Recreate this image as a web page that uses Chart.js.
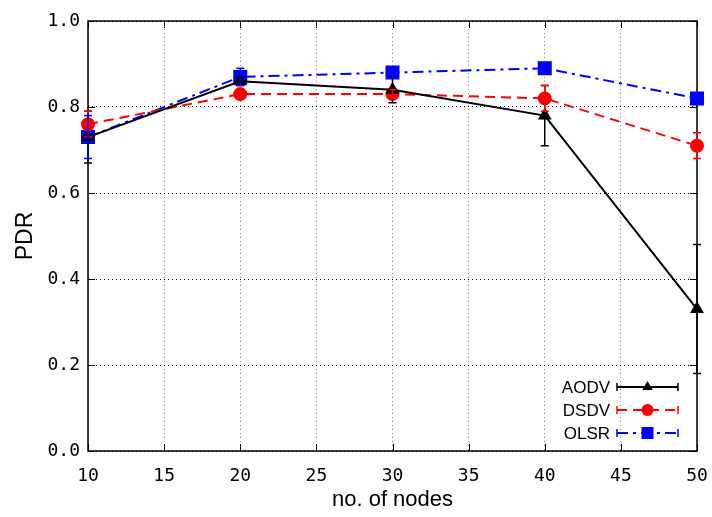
<!DOCTYPE html>
<html>
<head>
<meta charset="utf-8">
<script src="https://cdn.jsdelivr.net/npm/chart.js@4"></script>
<style>
  html, body { margin: 0; padding: 0; background: #fff; }
  #wrap { width: 712px; height: 517px; }
</style>
</head>
<body>
<div id="wrap"><canvas id="pdrChart" width="712" height="517"></canvas></div>
<script>
// Data
const nodes = [10, 20, 30, 40, 50]
const aodv = [0.73, 0.86, 0.84, 0.78, 0.33]
const aodvErr = [0.06, 0.01, 0.03, 0.07, 0.15]
const dsdv = [0.76, 0.83, 0.83, 0.82, 0.71]
const dsdvErr = [0.03, 0.01, 0.01, 0.03, 0.03]
const olsr = [0.73, 0.87, 0.88, 0.89, 0.82]
const olsrErr = [0.05, 0.02, 0.01, 0.01, 0.01]
const seriesNames = ['AODV', 'DSDV', 'OLSR']

const monoFont = "'DejaVu Sans Mono', monospace"
const sansFont = "'Liberation Sans', Arial, sans-serif"

function points(values) {
  return nodes.map((n, i) => ({ x: n, y: values[i] }))
}

// Error bars, frame, inward ticks and the key
const extras = {
  id: 'extras',
  beforeDatasetsDraw(chart) {
    const { ctx, chartArea: a, scales } = chart
    ctx.save()
    ctx.strokeStyle = '#000'
    ctx.lineWidth = 1.5
    ctx.strokeRect(a.left, a.top, a.right - a.left, a.bottom - a.top)
    ctx.lineWidth = 1
    scales.x.ticks.forEach(t => {
      const px = Math.round(scales.x.getPixelForValue(t.value)) + 0.5
      ctx.beginPath()
      ctx.moveTo(px, a.bottom); ctx.lineTo(px, a.bottom - 7)
      ctx.moveTo(px, a.top); ctx.lineTo(px, a.top + 7)
      ctx.stroke()
    })
    scales.y.ticks.forEach(t => {
      const py = Math.round(scales.y.getPixelForValue(t.value)) + 0.5
      ctx.beginPath()
      ctx.moveTo(a.left, py); ctx.lineTo(a.left + 7, py)
      ctx.moveTo(a.right, py); ctx.lineTo(a.right - 7, py)
      ctx.stroke()
    })
    ctx.restore()
  },
  afterDatasetsDraw(chart) {
    const { ctx, scales } = chart
    const errs = [aodvErr, dsdvErr, olsrErr]
    ctx.save()
    chart.data.datasets.forEach((ds, di) => {
      ctx.strokeStyle = ds.borderColor
      ctx.lineWidth = 1.5
      ds.data.forEach((p, i) => {
        const px = scales.x.getPixelForValue(p.x)
        const top = scales.y.getPixelForValue(p.y + errs[di][i])
        const bot = scales.y.getPixelForValue(p.y - errs[di][i])
        ctx.beginPath()
        ctx.moveTo(px, top); ctx.lineTo(px, bot)
        ctx.moveTo(px - 4, top); ctx.lineTo(px + 4, top)
        ctx.moveTo(px - 4, bot); ctx.lineTo(px + 4, bot)
        ctx.stroke()
      })
    })

    // key in the lower right corner
    const a = chart.chartArea
    const textRight = a.right - 87
    const x0 = a.right - 80
    const x1 = a.right - 19
    const mid = (x0 + x1) / 2
    ctx.font = '17px ' + sansFont
    ctx.textAlign = 'right'
    ctx.textBaseline = 'middle'
    chart.data.datasets.forEach((ds, di) => {
      const y = a.bottom - 64 + di * 23
      ctx.fillStyle = '#000'
      ctx.fillText(seriesNames[di], textRight, y + 1)
      ctx.strokeStyle = ds.borderColor
      ctx.lineWidth = ds.borderWidth
      ctx.setLineDash(ds.borderDash || [])
      ctx.beginPath()
      ctx.moveTo(x0, y); ctx.lineTo(x1, y)
      ctx.stroke()
      ctx.setLineDash([])
      ctx.lineWidth = 1.5
      ctx.beginPath()
      ctx.moveTo(x0, y - 4); ctx.lineTo(x0, y + 4)
      ctx.moveTo(x1, y - 4); ctx.lineTo(x1, y + 4)
      ctx.stroke()
      ctx.fillStyle = ds.pointBackgroundColor
      const r = ds.pointRadius
      ctx.beginPath()
      if (ds.pointStyle === 'triangle') {
        ctx.moveTo(mid, y - r); ctx.lineTo(mid + r * 0.87, y + r * 0.5); ctx.lineTo(mid - r * 0.87, y + r * 0.5)
      } else if (ds.pointStyle === 'rect') {
        ctx.rect(mid - r * 0.707, y - r * 0.707, r * 1.414, r * 1.414)
      } else {
        ctx.arc(mid, y, r, 0, Math.PI * 2)
      }
      ctx.fill()
    })
    ctx.restore()
  }
}

const ctx = document.getElementById('pdrChart').getContext('2d')
new Chart(ctx, {
  type: 'line',
  data: {
    datasets: [
      {
        label: seriesNames[0],
        data: points(aodv),
        borderColor: '#000',
        backgroundColor: '#000',
        pointBackgroundColor: '#000',
        pointBorderColor: '#000',
        borderWidth: 2,
        pointStyle: 'triangle',
        pointRadius: 6,
        clip: false
      },
      {
        label: seriesNames[1],
        data: points(dsdv),
        borderColor: '#ff0000',
        backgroundColor: '#ff0000',
        pointBackgroundColor: '#ff0000',
        pointBorderColor: '#ff0000',
        borderWidth: 2,
        borderDash: [10, 6],
        pointStyle: 'circle',
        pointRadius: 6,
        clip: false
      },
      {
        label: seriesNames[2],
        data: points(olsr),
        borderColor: '#0000ff',
        backgroundColor: '#0000ff',
        pointBackgroundColor: '#0000ff',
        pointBorderColor: '#0000ff',
        borderWidth: 2,
        borderDash: [11, 5, 3, 5],
        pointStyle: 'rect',
        pointRadius: 8.5,
        clip: false
      }
    ]
  },
  options: {
    responsive: false,
    animation: false,
    layout: { padding: { top: 21, right: 15, left: 8, bottom: 0 } },
    plugins: {
      legend: { display: false },
      tooltip: { enabled: false }
    },
    scales: {
      x: {
        type: 'linear',
        min: 10,
        max: 50,
        ticks: {
          stepSize: 5,
          color: '#000',
          font: { family: monoFont, size: 18 },
          padding: 3,
          maxRotation: 0
        },
        grid: {
          color: '#888',
          lineWidth: 1,
          drawTicks: true,
          tickLength: 12,
          tickColor: 'rgba(0,0,0,0)'
        },
        border: { display: false, dash: [1, 3] },
        title: {
          display: true,
          text: 'no. of nodes',
          color: '#000',
          font: { family: sansFont, size: 22 },
          padding: { top: 1 }
        },
        afterFit(scale) { scale.height = 66 }
      },
      y: {
        min: 0,
        max: 1,
        ticks: {
          stepSize: 0.2,
          color: '#000',
          font: { family: monoFont, size: 18 },
          padding: 8,
          callback: v => v.toFixed(1)
        },
        grid: { color: '#000', lineWidth: 1, tickLength: 0, drawTicks: false },
        border: { display: false, dash: [1, 3] },
        title: {
          display: true,
          text: 'PDR',
          color: '#000',
          font: { family: sansFont, size: 23 },
          padding: { bottom: 4 }
        },
        afterFit(scale) { scale.width = 80 }
      }
    }
  },
  plugins: [extras]
})
</script>
</body>
</html>
